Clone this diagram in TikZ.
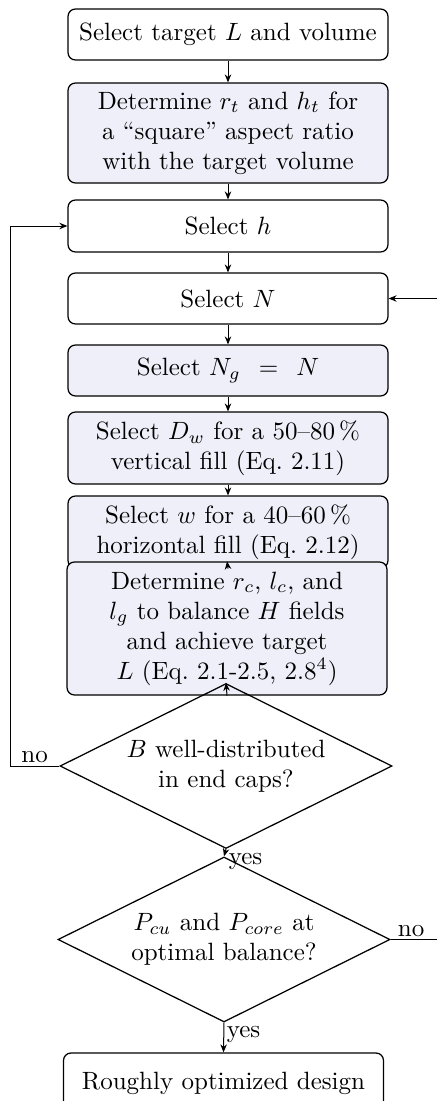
\documentclass[tikz,border=0pt]{standalone}
\usetikzlibrary{shapes.geometric,arrows.meta}
\definecolor{boxfill}{RGB}{238,239,248}
\begin{document}
\begin{tikzpicture}[x=0.4pt,y=-0.4pt,
  every node/.style={font=\fontsize{10}{12}\selectfont},
  plainbox/.style={draw, rounded corners=3pt, align=center, minimum width=128pt, inner sep=0pt, line width=0.5pt},
  fillbox/.style={plainbox, fill=boxfill},
  decision/.style={draw, diamond, aspect=2, align=center, inner sep=0pt, minimum width=132.8pt, minimum height=66pt, line width=0.5pt},
  conn/.style={line width=0.4pt, -{Stealth[length=3.2pt,width=2.6pt]}},
  lbl/.style={font=\fontsize{10}{12}\selectfont, inner sep=1pt}]
\useasboundingbox (0,0) rectangle (436,1101);
\node[plainbox, minimum height=20.4pt] (b1) at (228,34.5) {Select target $L$ and volume};
\node[fillbox, minimum height=40pt] (b2) at (228,133) {Determine $r_t$ and $h_t$ for\\a ``square'' aspect ratio\\with the target volume};
\node[plainbox, minimum height=20.8pt] (b3) at (228,226) {Select $h$};
\node[plainbox, minimum height=20.4pt] (b4) at (228,298.5) {Select $N$};
\node[fillbox, minimum height=20.4pt] (b5) at (228,370.5) {Select $N_g\;\,=\;\,N$};
\node[fillbox, minimum height=28.8pt] (b6) at (228,448) {Select $D_w$ for a 50--80\,\%\\vertical fill (Eq.~2.11)};
\node[fillbox, minimum height=28.8pt] (b7) at (228,532) {Select $w$ for a 40--60\,\%\\horizontal fill (Eq.~2.12)};
\node[fillbox, minimum height=53.2pt] (b8) at (227,628.5) {Determine $r_c$, $l_c$, and\\$l_g$ to balance $H$ fields\\and achieve target\\$L$ (Eq.~2.1-2.5, 2.8$^4$)};
\node[decision] (d1) at (226,766) {$B$ well-distributed\\in end caps?};
\node[decision] (d2) at (224,939.5) {$P_{cu}$ and $P_{core}$ at\\optimal balance?};
\node[plainbox, minimum height=24pt] (b9) at (223.5,1083) {Roughly optimized design};
\coordinate (lc) at (10,766);
\coordinate (rc) at (442,939.5);
\draw[conn] (b1) -- (b2);
\draw[conn] (b2) -- (b3);
\draw[conn] (b3) -- (b4);
\draw[conn] (b4) -- (b5);
\draw[conn] (b5) -- (b6);
\draw[conn] (b6) -- (b7);
\draw[conn] (b7.south) -- (b8.north);
\draw[conn] (b8.south) -- (d1.north);
\draw[conn] (d1.south) -- node[lbl, anchor=north west, pos=0.1] {yes} (d2.north);
\draw[conn] (d2.south) -- node[lbl, anchor=west, pos=0.4] {yes} (b9.north);
\draw[conn] (d1.west) -- node[lbl, above, pos=0.5] {no} (lc) |- (b3.west);
\draw[conn] (d2.east) -- node[lbl, above, pos=0.4] {no} (rc) |- (b4.east);
\end{tikzpicture}
\end{document}
